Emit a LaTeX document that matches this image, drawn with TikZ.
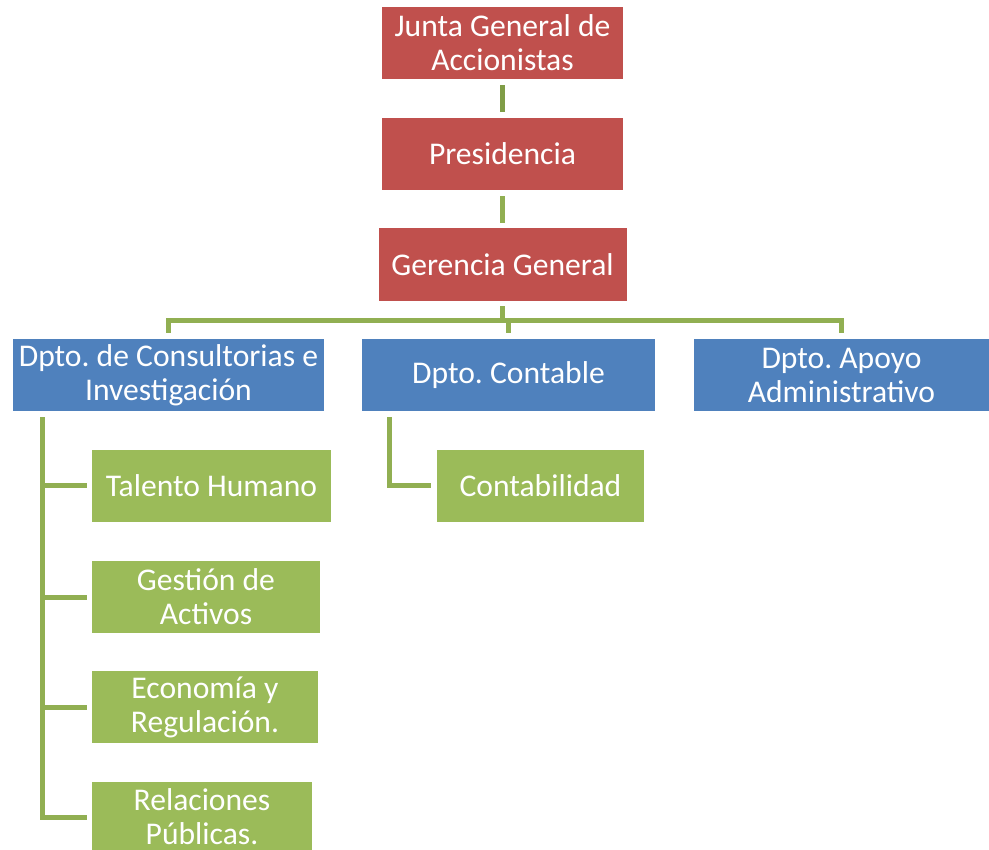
\documentclass[tikz,border=0pt]{standalone}
\usepackage{fontspec}
\setmainfont{Carlito}
\frenchspacing
\definecolor{boxred}{HTML}{C0504D}
\definecolor{boxblue}{HTML}{4F81BD}
\definecolor{boxgreen}{HTML}{9BBB59}
\definecolor{linegreen}{HTML}{91AF52}
\definecolor{linegreendark}{HTML}{809D47}
\begin{document}
\begin{tikzpicture}[x=1pt,y=-1pt,
  orgbox/.style={rectangle, inner sep=0pt, text=white, align=center,
    font=\fontsize{31.6}{34}\selectfont},
  redbox/.style={orgbox, fill=boxred},
  bluebox/.style={orgbox, fill=boxblue},
  greenbox/.style={orgbox, fill=boxgreen},
  conn/.style={draw=linegreen, line width=5pt, line join=miter}]
\useasboundingbox (0,0) rectangle (989,850);

% top of the hierarchy
\node[redbox, minimum width=241, minimum height=72] (junta) at (502.5,43) {Junta General de\\Accionistas};
\node[redbox, minimum width=241, minimum height=72] (pres) at (502.5,154) {Presidencia};
\node[redbox, minimum width=248, minimum height=73] (ger) at (502.5,264.5) {Gerencia General};

% departments
\node[bluebox, minimum width=311, minimum height=72] (dci) at (168.5,375) {Dpto. de Consultorias e\\Investigación};
\node[bluebox, minimum width=293, minimum height=72] (dco) at (508.5,375) {Dpto. Contable};
\node[bluebox, minimum width=295, minimum height=72] (dap) at (841.5,375) {Dpto. Apoyo\\Administrativo};

% units
\node[greenbox, minimum width=239, minimum height=72] (th) at (211.5,486) {Talento Humano};
\node[greenbox, minimum width=228, minimum height=72] (ga) at (206,597) {Gestión de\\Activos};
\node[greenbox, minimum width=226, minimum height=72] (er) at (205,707) {Economía y\\Regulación.};
\node[greenbox, minimum width=220, minimum height=71] (rp) at (202,817) {Relaciones\\Públicas.};
\node[greenbox, minimum width=207, minimum height=72] (cb) at (540.5,486) {Contabilidad};

% helper coordinates for the connector lines
\coordinate (bus) at (0,321);
\coordinate (spine) at (42,0);
\coordinate (cspine) at (389,0);

% vertical chain
\draw[conn, draw=linegreendark, shorten <=6pt, shorten >=6pt] (junta.south) -- (pres.north);
\draw[conn, shorten <=6pt, shorten >=5pt] (pres.south) -- (ger.north);

% bus to the departments
\draw[conn, shorten <=5pt] (ger.south) -- (ger.south |- bus);
\draw[conn, shorten <=6pt, shorten >=6pt] (dci.north) -- (dci.north |- bus) -- (dap.north |- bus) -- (dap.north);
\draw[conn, shorten >=6pt] (dco.north |- bus) -- (dco.north);

% consultancy units
\draw[conn, shorten <=6pt, shorten >=5pt] (dci.south -| spine) -- (rp.west -| spine) -- (rp.west);
\draw[conn, shorten >=5pt] (th.west -| spine) -- (th.west);
\draw[conn, shorten >=5pt] (ga.west -| spine) -- (ga.west);
\draw[conn, shorten >=5pt] (er.west -| spine) -- (er.west);

% accounting unit
\draw[conn, shorten <=6pt, shorten >=6pt] (dco.south -| cspine) -- (cb.west -| cspine) -- (cb.west);
\end{tikzpicture}
\end{document}
